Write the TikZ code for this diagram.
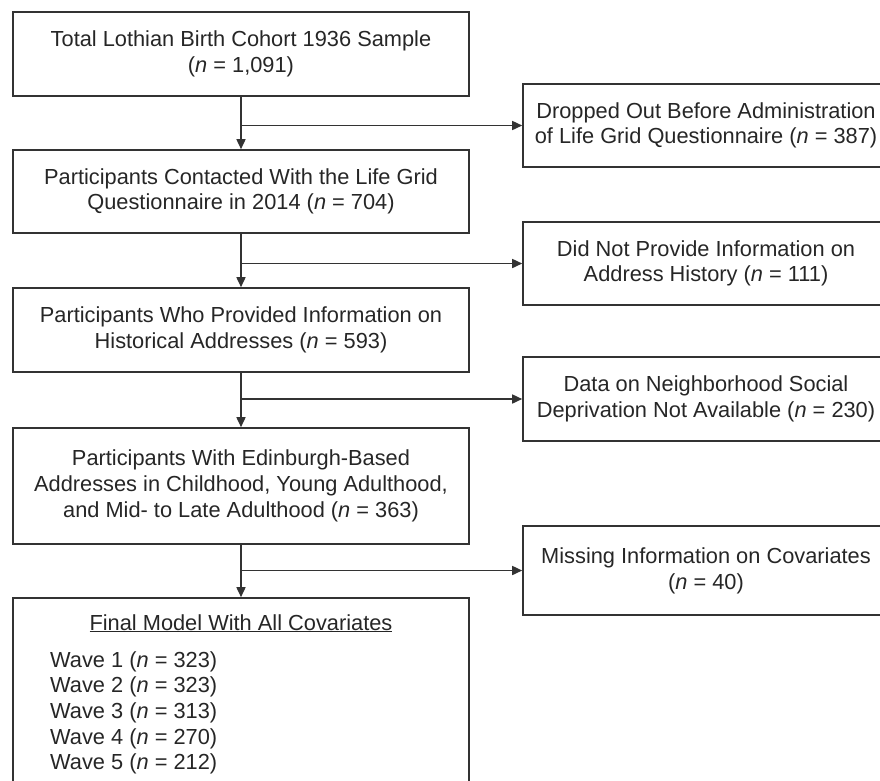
\documentclass[tikz,border=0pt]{standalone}
\usepackage{fontspec}
\setmainfont{Liberation Sans}
\usetikzlibrary{arrows.meta}
\definecolor{ink}{HTML}{262626}
\definecolor{edge}{HTML}{333333}
\begin{document}
\begin{tikzpicture}[x=1pt,y=-1pt,
  every node/.style={font=\fontsize{21.8}{25.7}\selectfont, text=ink},
  lbox/.style={draw=edge, line width=1.6pt, minimum width=456pt, inner sep=0pt, align=center},
  rbox/.style={draw=edge, line width=1.6pt, minimum width=366pt, inner sep=0pt, align=center},
  flow/.style={draw=edge, line width=1.6pt, -{Triangle[length=10pt,width=9pt]}},
  plain/.style={inner sep=0pt}]
\useasboundingbox (0,0) rectangle (880,780);
% left column
\node[lbox, minimum height=84pt] (b1) at (241,54) {Total Lothian Birth Cohort 1936 Sample\\(\textit{n} = 1,091)};
\node[lbox, minimum height=83pt] (b2) at (241,191.5) {Participants Contacted With the Life Grid\\Questionnaire in 2014 (\textit{n} = 704)};
\node[lbox, minimum height=84pt] (b3) at (241,330) {Participants Who Provided Information on\\Historical Addresses (\textit{n} = 593)};
\node[lbox, minimum height=116pt] (b4) at (241,486) {Participants With Edinburgh-Based\\Addresses in Childhood, Young Adulthood,\\and Mid- to Late Adulthood (\textit{n} = 363)};
\node[lbox, minimum height=200pt] (b5) at (241,698) {};
\node[plain, anchor=base] (t5) at (241,630) {\underline{Final Model With All Covariates}};
\node[plain, anchor=base west] (w1) at (50,667) {Wave 1 (\textit{n} = 323)};
\node[plain, anchor=base west] (w2) at (50,692.7) {Wave 2 (\textit{n} = 323)};
\node[plain, anchor=base west] (w3) at (50,718.4) {Wave 3 (\textit{n} = 313)};
\node[plain, anchor=base west] (w4) at (50,744.1) {Wave 4 (\textit{n} = 270)};
\node[plain, anchor=base west] (w5) at (50,769.8) {Wave 5 (\textit{n} = 212)};
% right column
\node[rbox, minimum height=83pt] (r1) at (706,125.5) {Dropped Out Before Administration\\of Life Grid Questionnaire (\textit{n} = 387)};
\node[rbox, minimum height=83pt] (r2) at (706,263.5) {Did Not Provide Information on\\Address History (\textit{n} = 111)};
\node[rbox, minimum height=84pt] (r3) at (706,399) {Data on Neighborhood Social\\Deprivation Not Available (\textit{n} = 230)};
\node[rbox, minimum height=89pt] (r4) at (706,570.5) {Missing Information on Covariates\\(\textit{n} = 40)};
% junctions
\coordinate (j1) at (b1.south |- r1.west);
\coordinate (j2) at (b2.south |- r2.west);
\coordinate (j3) at (b3.south |- r3.west);
\coordinate (j4) at (b4.south |- r4.west);
% connectors
\draw[flow] (b1.south) -- (b2.north);
\draw[flow] (b2.south) -- (b3.north);
\draw[flow] (b3.south) -- (b4.north);
\draw[flow] (b4.south) -- (b5.north);
\draw[flow] (j1) -- (r1.west);
\draw[flow] (j2) -- (r2.west);
\draw[flow] (j3) -- (r3.west);
\draw[flow] (j4) -- (r4.west);
\end{tikzpicture}
\end{document}
